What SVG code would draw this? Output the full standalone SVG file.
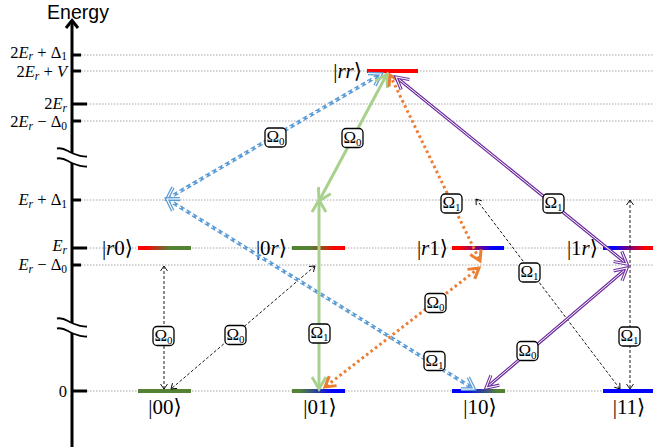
<svg xmlns="http://www.w3.org/2000/svg" width="653" height="447" viewBox="0 0 653 447">
  <style>
    .grid { stroke: #a6a6a6; stroke-width: 1; stroke-dasharray: 1.5 1.5; fill: none; }
    .axis { stroke: #000; stroke-width: 3; fill: none; }
    .tick { stroke: #000; stroke-width: 3; fill: none; }
    .brk { stroke: #000; stroke-width: 1.8; fill: none; }
    .math { font-family: "Liberation Serif", "DejaVu Serif", serif; fill: #000; }
    .axlbl { font-size: 16.5px; }
    .ket { font-size: 21px; }
    .it { font-style: italic; }
    .title { font-family: "Liberation Sans", Arial, sans-serif; font-size: 19.5px; fill: #000; }
    .blue { stroke: #5b9bd5; stroke-width: 3.6; fill: none; stroke-dasharray: 5 2.5; }
    .blue-in { stroke: #fff; stroke-width: 1.1; fill: none; stroke-dasharray: 5 2.5; }
    .green { stroke: #a9d18e; stroke-width: 3; fill: none; }
    .orange { stroke: #ed7d31; stroke-width: 3; fill: none; stroke-dasharray: 2.6 3; }
    .purple { stroke: #7030a0; stroke-width: 3.2; fill: none; }
    .purple-in { stroke: #fff; stroke-width: 1; fill: none; }
    .black { stroke: #000; stroke-width: 0.9; fill: none; stroke-dasharray: 3 2; }
    .lblbox { fill: #fff; stroke: #000; stroke-width: 1.3; }
    .lbl { font-family: "Liberation Serif", "DejaVu Serif", serif; font-size: 17px; fill: #000; text-anchor: middle; }
  </style>
  <defs>
    <linearGradient id="grad-r0" x1="0" x2="1" y1="0" y2="0">
      <stop offset="0" stop-color="#ff0000"/><stop offset="0.15" stop-color="#ff0000"/>
      <stop offset="0.6" stop-color="#548235"/><stop offset="1" stop-color="#548235"/>
    </linearGradient>
    <linearGradient id="grad-0r" x1="0" x2="1" y1="0" y2="0">
      <stop offset="0" stop-color="#548235"/><stop offset="0.35" stop-color="#548235"/>
      <stop offset="0.82" stop-color="#ff0000"/><stop offset="1" stop-color="#ff0000"/>
    </linearGradient>
    <linearGradient id="grad-r1" x1="0" x2="1" y1="0" y2="0">
      <stop offset="0" stop-color="#ff0000"/><stop offset="0.15" stop-color="#ff0000"/>
      <stop offset="0.8" stop-color="#0000ff"/><stop offset="1" stop-color="#0000ff"/>
    </linearGradient>
    <linearGradient id="grad-1r" x1="0" x2="1" y1="0" y2="0">
      <stop offset="0" stop-color="#0000ff"/><stop offset="0.2" stop-color="#0000ff"/>
      <stop offset="0.85" stop-color="#ff0000"/><stop offset="1" stop-color="#ff0000"/>
    </linearGradient>
    <linearGradient id="grad-01" x1="0" x2="1" y1="0" y2="0">
      <stop offset="0" stop-color="#548235"/><stop offset="0.15" stop-color="#548235"/>
      <stop offset="0.75" stop-color="#0000ff"/><stop offset="1" stop-color="#0000ff"/>
    </linearGradient>
    <linearGradient id="grad-10" x1="0" x2="1" y1="0" y2="0">
      <stop offset="0" stop-color="#0000ff"/><stop offset="0.25" stop-color="#0000ff"/>
      <stop offset="0.85" stop-color="#548235"/><stop offset="1" stop-color="#548235"/>
    </linearGradient>

    <marker id="m-blue" markerUnits="userSpaceOnUse" orient="auto-start-reverse" markerWidth="20" markerHeight="20" viewBox="-16 -10 20 20" refX="0" refY="0" overflow="visible">
      <path d="M-11,-7 L0,0 L-11,7" stroke="#5b9bd5" stroke-width="3.6" fill="none"/>
      <path d="M-11,-7 L0,0 L-11,7" stroke="#fff" stroke-width="1.1" fill="none"/>
    </marker>
    <marker id="m-green" markerUnits="userSpaceOnUse" orient="auto-start-reverse" markerWidth="20" markerHeight="20" viewBox="-16 -10 20 20" refX="0" refY="0" overflow="visible">
      <path d="M-12,-7 L0,0 L-12,7" stroke="#a9d18e" stroke-width="3" fill="none"/>
    </marker>
    <marker id="m-orange" markerUnits="userSpaceOnUse" orient="auto-start-reverse" markerWidth="20" markerHeight="20" viewBox="-16 -10 20 20" refX="0" refY="0" overflow="visible">
      <path d="M-10,-6 L0,0 L-10,6" stroke="#ed7d31" stroke-width="3" fill="none"/>
    </marker>
    <marker id="m-purple" markerUnits="userSpaceOnUse" orient="auto-start-reverse" markerWidth="20" markerHeight="20" viewBox="-16 -10 20 20" refX="0" refY="0" overflow="visible">
      <path d="M-12,-6.5 L0,0 L-12,6.5" stroke="#7030a0" stroke-width="3.2" fill="none"/>
      <path d="M-12,-6.5 L0,0 L-12,6.5" stroke="#fff" stroke-width="1" fill="none"/>
    </marker>
    <marker id="m-black" markerUnits="userSpaceOnUse" orient="auto-start-reverse" markerWidth="10" markerHeight="10" viewBox="-8 -5 10 10" refX="0" refY="0" overflow="visible">
      <path d="M-5,-3.5 L0,0 L-5,3.5" stroke="#000" stroke-width="0.9" fill="none"/>
    </marker>
  </defs>

  <!-- energy grid lines -->
  <g id="grid">
    <line class="grid" x1="81" y1="55" x2="653" y2="55"/>
    <line class="grid" x1="81" y1="71" x2="653" y2="71"/>
    <line class="grid" x1="87" y1="104" x2="653" y2="104"/>
    <line class="grid" x1="81" y1="121" x2="653" y2="121"/>
    <line class="grid" x1="81" y1="200" x2="653" y2="200"/>
    <line class="grid" x1="87" y1="248" x2="653" y2="248"/>
    <line class="grid" x1="81" y1="265" x2="653" y2="265"/>
    <line class="grid" x1="87" y1="391" x2="653" y2="391"/>
  </g>

  <!-- energy axis -->
  <g id="axis">
    <text class="title" x="78" y="19" text-anchor="middle">Energy</text>
    <path class="axis" d="M66,28 L72,20.5 L78,28"/>
    <line class="axis" x1="72" y1="21" x2="72" y2="153"/>
    <line class="axis" x1="72" y1="163" x2="72" y2="323"/>
    <line class="axis" x1="72" y1="333" x2="72" y2="447"/>
    <g id="break-upper">
      <path class="brk" d="M57,148.5 C64,147 67,151 72,153 C77,155 80,157 87,156.5"/>
      <path class="brk" d="M57,158.5 C64,157 67,161 72,163 C77,165 80,167 87,166.5"/>
    </g>
    <g id="break-lower" transform="translate(0,170)">
      <path class="brk" d="M57,148.5 C64,147 67,151 72,153 C77,155 80,157 87,156.5"/>
      <path class="brk" d="M57,158.5 C64,157 67,161 72,163 C77,165 80,167 87,166.5"/>
    </g>
    <line class="tick" x1="72" y1="55" x2="81" y2="55"/>
    <line class="tick" x1="72" y1="71" x2="81" y2="71"/>
    <line class="tick" x1="72" y1="104" x2="87" y2="104"/>
    <line class="tick" x1="72" y1="121" x2="81" y2="121"/>
    <line class="tick" x1="72" y1="200" x2="81" y2="200"/>
    <line class="tick" x1="72" y1="248" x2="87" y2="248"/>
    <line class="tick" x1="72" y1="265" x2="81" y2="265"/>
    <line class="tick" x1="72" y1="391" x2="87" y2="391"/>

    <text class="math axlbl" x="67" y="57.5" text-anchor="end">2<tspan class="it">E</tspan><tspan class="it" font-size="11.5" dy="2.5">r</tspan><tspan dy="-2.5"> + Δ</tspan><tspan font-size="11.5" dy="2.5">1</tspan></text>
    <text class="math axlbl" x="67" y="77" text-anchor="end">2<tspan class="it">E</tspan><tspan class="it" font-size="11.5" dy="2.5">r</tspan><tspan dy="-2.5"> + </tspan><tspan class="it">V</tspan></text>
    <text class="math axlbl" x="67" y="109" text-anchor="end">2<tspan class="it">E</tspan><tspan class="it" font-size="11.5" dy="2.5">r</tspan></text>
    <text class="math axlbl" x="67" y="127" text-anchor="end">2<tspan class="it">E</tspan><tspan class="it" font-size="11.5" dy="2.5">r</tspan><tspan dy="-2.5"> − Δ</tspan><tspan font-size="11.5" dy="2.5">0</tspan></text>
    <text class="math axlbl" x="67" y="205" text-anchor="end"><tspan class="it">E</tspan><tspan class="it" font-size="11.5" dy="2.5">r</tspan><tspan dy="-2.5"> + Δ</tspan><tspan font-size="11.5" dy="2.5">1</tspan></text>
    <text class="math axlbl" x="67" y="251" text-anchor="end"><tspan class="it">E</tspan><tspan class="it" font-size="11.5" dy="2.5">r</tspan></text>
    <text class="math axlbl" x="67" y="270" text-anchor="end"><tspan class="it">E</tspan><tspan class="it" font-size="11.5" dy="2.5">r</tspan><tspan dy="-2.5"> − Δ</tspan><tspan font-size="11.5" dy="2.5">0</tspan></text>
    <text class="math axlbl" x="67" y="397" text-anchor="end">0</text>
  </g>

  <!-- two-atom states -->
  <g id="state-rr">
    <rect x="367" y="69" width="51" height="4" fill="#ff0000"/>
    <text class="math ket" x="362" y="78" text-anchor="end">|<tspan class="it">rr</tspan>⟩</text>
  </g>
  <g id="state-r0">
    <rect x="138" y="246" width="53" height="4" fill="url(#grad-r0)"/>
    <text class="math ket" x="133" y="255" text-anchor="end">|<tspan class="it">r</tspan>0⟩</text>
  </g>
  <g id="state-0r">
    <rect x="292" y="246" width="53" height="4" fill="url(#grad-0r)"/>
    <text class="math ket" x="287" y="255" text-anchor="end">|0<tspan class="it">r</tspan>⟩</text>
  </g>
  <g id="state-r1">
    <rect x="452" y="246" width="52" height="4" fill="url(#grad-r1)"/>
    <text class="math ket" x="448" y="255" text-anchor="end">|<tspan class="it">r</tspan>1⟩</text>
  </g>
  <g id="state-1r">
    <rect x="603" y="246" width="50" height="4" fill="url(#grad-1r)"/>
    <text class="math ket" x="598" y="255" text-anchor="end">|1<tspan class="it">r</tspan>⟩</text>
  </g>
  <g id="state-00">
    <rect x="138" y="389" width="53" height="4" fill="#548235"/>
    <text class="math ket" x="165" y="414" text-anchor="middle">|00⟩</text>
  </g>
  <g id="state-01">
    <rect x="292" y="389" width="53" height="4" fill="url(#grad-01)"/>
    <text class="math ket" x="320" y="414" text-anchor="middle">|01⟩</text>
  </g>
  <g id="state-10">
    <rect x="452" y="389" width="53" height="4" fill="url(#grad-10)"/>
    <text class="math ket" x="480" y="414" text-anchor="middle">|10⟩</text>
  </g>
  <g id="state-11">
    <rect x="603" y="389" width="50" height="4" fill="#0000ff"/>
    <text class="math ket" x="629" y="414" text-anchor="middle">|11⟩</text>
  </g>

  <!-- couplings -->
  <g id="connectors">
    <!-- black: single-atom detuned paths -->
    <line class="black" x1="164" y1="266" x2="164" y2="389" marker-start="url(#m-black)" marker-end="url(#m-black)"/>
    <line class="black" x1="315" y1="266" x2="171" y2="389" marker-start="url(#m-black)" marker-end="url(#m-black)"/>
    <line class="black" x1="476" y1="199" x2="620" y2="389" marker-start="url(#m-black)" marker-end="url(#m-black)"/>
    <line class="black" x1="630" y1="200" x2="630" y2="389" marker-start="url(#m-black)" marker-end="url(#m-black)"/>

    <!-- blue: via E_r + Δ1 -->
    <line class="blue" x1="167" y1="199" x2="381" y2="74" marker-start="url(#m-blue)" marker-end="url(#m-blue)"/>
    <line class="blue-in" x1="170.5" y1="197" x2="377.5" y2="76"/>
    <line class="blue" x1="167" y1="199" x2="474" y2="389" marker-start="url(#m-blue)" marker-end="url(#m-blue)"/>
    <line class="blue-in" x1="170.4" y1="201.1" x2="470.6" y2="386.9"/>

    <!-- green: via E_r + Δ1 -->
    <line class="green" x1="319" y1="201" x2="387" y2="74" marker-start="url(#m-green)" marker-end="url(#m-green)"/>
    <line class="green" x1="319" y1="200" x2="319" y2="389" marker-start="url(#m-green)" marker-end="url(#m-green)"/>

    <!-- orange: via E_r − Δ0 -->
    <line class="orange" x1="390" y1="75" x2="480" y2="261" marker-start="url(#m-orange)" marker-end="url(#m-orange)"/>
    <line class="orange" x1="479" y1="268" x2="325" y2="387" marker-start="url(#m-orange)" marker-end="url(#m-orange)"/>

    <!-- purple: via E_r − Δ0 -->
    <line class="purple" x1="396" y1="77" x2="627" y2="264" marker-start="url(#m-purple)" marker-end="url(#m-purple)"/>
    <line class="purple-in" x1="399.1" y1="79.5" x2="623.9" y2="261.5"/>
    <line class="purple" x1="627" y1="268" x2="486" y2="388" marker-start="url(#m-purple)" marker-end="url(#m-purple)"/>
    <line class="purple-in" x1="624" y1="270.6" x2="489" y2="385.4"/>
  </g>

  <!-- Rabi frequency tags -->
  <g id="labels">
    <g transform="translate(275.5,137.5)"><rect class="lblbox" x="-10.5" y="-9.5" width="21" height="19" rx="4"/><text class="lbl" y="4.5">Ω<tspan font-size="11" dy="3">0</tspan></text></g>
    <g transform="translate(352.5,138)"><rect class="lblbox" x="-10.5" y="-9.5" width="21" height="19" rx="4"/><text class="lbl" y="4.5">Ω<tspan font-size="11" dy="3">0</tspan></text></g>
    <g transform="translate(451.5,203.5)"><rect class="lblbox" x="-10.5" y="-9.5" width="21" height="19" rx="4"/><text class="lbl" y="4.5">Ω<tspan font-size="11" dy="3">1</tspan></text></g>
    <g transform="translate(553.5,203.5)"><rect class="lblbox" x="-10.5" y="-9.5" width="21" height="19" rx="4"/><text class="lbl" y="4.5">Ω<tspan font-size="11" dy="3">1</tspan></text></g>
    <g transform="translate(529.5,272.5)"><rect class="lblbox" x="-10.5" y="-9.5" width="21" height="19" rx="4"/><text class="lbl" y="4.5">Ω<tspan font-size="11" dy="3">1</tspan></text></g>
    <g transform="translate(435.5,303)"><rect class="lblbox" x="-10.5" y="-9.5" width="21" height="19" rx="4"/><text class="lbl" y="4.5">Ω<tspan font-size="11" dy="3">0</tspan></text></g>
    <g transform="translate(163.5,336)"><rect class="lblbox" x="-10.5" y="-9.5" width="21" height="19" rx="4"/><text class="lbl" y="4.5">Ω<tspan font-size="11" dy="3">0</tspan></text></g>
    <g transform="translate(235.5,335)"><rect class="lblbox" x="-10.5" y="-9.5" width="21" height="19" rx="4"/><text class="lbl" y="4.5">Ω<tspan font-size="11" dy="3">0</tspan></text></g>
    <g transform="translate(319.5,333.5)"><rect class="lblbox" x="-10.5" y="-9.5" width="21" height="19" rx="4"/><text class="lbl" y="4.5">Ω<tspan font-size="11" dy="3">1</tspan></text></g>
    <g transform="translate(527.5,351)"><rect class="lblbox" x="-10.5" y="-9.5" width="21" height="19" rx="4"/><text class="lbl" y="4.5">Ω<tspan font-size="11" dy="3">0</tspan></text></g>
    <g transform="translate(434.5,361)"><rect class="lblbox" x="-10.5" y="-9.5" width="21" height="19" rx="4"/><text class="lbl" y="4.5">Ω<tspan font-size="11" dy="3">1</tspan></text></g>
    <g transform="translate(629.5,336.5)"><rect class="lblbox" x="-10.5" y="-9.5" width="21" height="19" rx="4"/><text class="lbl" y="4.5">Ω<tspan font-size="11" dy="3">1</tspan></text></g>
  </g>
</svg>
